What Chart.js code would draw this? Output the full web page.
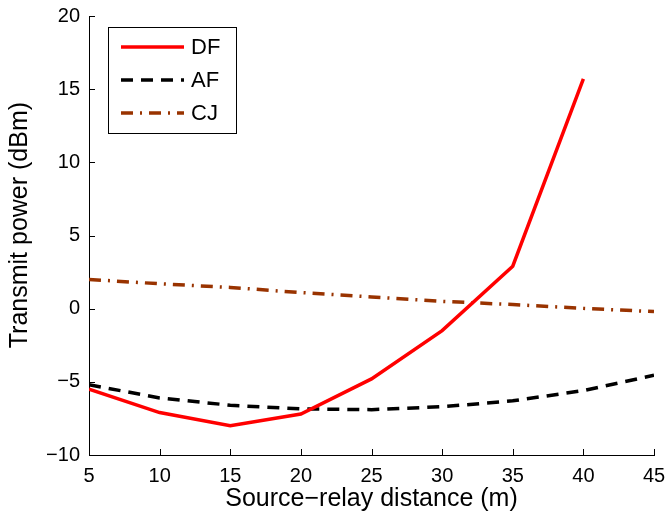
<!DOCTYPE html>
<html>
<head>
<meta charset="utf-8">
<script src="https://cdn.jsdelivr.net/npm/chart.js@4/dist/chart.umd.min.js"></script>
<style>
  html, body { margin: 0; padding: 0; background: #fff; }
  #wrap { width: 667px; height: 514px; }
</style>
</head>
<body>
<div id="wrap"><canvas id="chart"></canvas></div>
<script>
// valores
const distances = [5, 10, 15, 20, 25, 30, 35, 40, 45];
const dfPower = [-5.5, -7.1, -8.0, -7.2, -4.8, -1.5, 2.9, 15.7, null];
const afPower = [-5.2, -6.1, -6.6, -6.85, -6.9, -6.7, -6.3, -5.6, -4.55];
const cjPower = [2.0, 1.7, 1.45, 1.1, 0.8, 0.5, 0.28, 0.02, -0.2];
const seriesNames = ["DF", "AF", "CJ"];
const xTicks = [5, 10, 15, 20, 25, 30, 35, 40, 45];
const yTicks = [-10, -5, 0, 5, 10, 15, 20];

const FONT = "'Liberation Sans', Arial, Helvetica, sans-serif";

function toPoints(values) {
  return distances.map((d, i) => ({ x: d, y: values[i] }));
}

// ticks para dentro, estilo MATLAB
const inwardTicks = {
  id: "inwardTicks",
  afterDraw(chart) {
    const { ctx, chartArea, scales } = chart;
    ctx.save();
    ctx.strokeStyle = "#000";
    ctx.lineWidth = 1;
    ctx.beginPath();
    for (const v of xTicks) {
      const px = Math.round(scales.x.getPixelForValue(v)) + 0.5;
      ctx.moveTo(px, chartArea.bottom);
      ctx.lineTo(px, chartArea.bottom - 6);
    }
    for (const v of yTicks) {
      const py = Math.round(scales.y.getPixelForValue(v)) + 0.5;
      ctx.moveTo(chartArea.left, py);
      ctx.lineTo(chartArea.left + 6, py);
    }
    ctx.stroke();
    ctx.restore();
  }
};

// legenda desenhada à mão com os estilos dos datasets
const boxLegend = {
  id: "boxLegend",
  afterDraw(chart) {
    const { ctx, chartArea } = chart;
    const x0 = chartArea.left + 19, y0 = 27, w = 128, h = 106;
    ctx.save();
    ctx.fillStyle = "#fff";
    ctx.fillRect(x0, y0, w, h);
    ctx.strokeStyle = "#000";
    ctx.lineWidth = 1;
    ctx.strokeRect(x0 + 0.5, y0 + 0.5, w, h);
    chart.data.datasets.forEach((ds, i) => {
      const y = y0 + 20 + i * 33;
      ctx.strokeStyle = ds.borderColor;
      ctx.lineWidth = ds.borderWidth;
      ctx.setLineDash(ds.borderDash || []);
      ctx.beginPath();
      ctx.moveTo(x0 + 13, y);
      ctx.lineTo(x0 + 76, y);
      ctx.stroke();
      ctx.setLineDash([]);
      ctx.fillStyle = "#000";
      ctx.font = "22px " + FONT;
      ctx.textBaseline = "middle";
      ctx.fillText(ds.label, x0 + 83, y + 1);
    });
    ctx.restore();
  }
};

const minus = v => String(v).replace("-", "\u2212");

new Chart(document.getElementById("chart"), {
  type: "line",
  data: {
    datasets: [
      {
        label: seriesNames[0],
        data: toPoints(dfPower),
        borderColor: "#ff0000",
        borderWidth: 3.5,
        pointRadius: 0,
        spanGaps: false
      },
      {
        label: seriesNames[1],
        data: toPoints(afPower),
        borderColor: "#000000",
        borderWidth: 3.5,
        borderDash: [12, 8],
        pointRadius: 0
      },
      {
        label: seriesNames[2],
        data: toPoints(cjPower),
        borderColor: "#993300",
        borderWidth: 3.5,
        borderDash: [12, 7, 2, 7],
        pointRadius: 0
      }
    ]
  },
  options: {
    responsive: true,
    maintainAspectRatio: false,
    animation: false,
    layout: { padding: { top: 16, right: 13, left: 0, bottom: 0 } },
    plugins: {
      legend: { display: false },
      tooltip: { enabled: false }
    },
    scales: {
      x: {
        type: "linear",
        min: 5,
        max: 45,
        afterBuildTicks: s => { s.ticks = xTicks.map(v => ({ value: v })); },
        afterFit: s => { s.height = 59; s.paddingLeft = 0; s.paddingRight = 0; },
        grid: { display: true, drawOnChartArea: false, drawTicks: false },
        border: { color: "#000", width: 1 },
        ticks: { color: "#000", font: { family: FONT, size: 20 }, padding: 9, maxRotation: 0, callback: minus },
        title: {
          display: true,
          text: "Source\u2212relay distance (m)",
          color: "#000",
          font: { family: FONT, size: 25 },
          padding: { top: 0, bottom: 0 }
        }
      },
      y: {
        min: -10,
        max: 20,
        afterBuildTicks: s => { s.ticks = yTicks.map(v => ({ value: v })); },
        afterFit: s => { s.width = 89; s.paddingTop = 0; s.paddingBottom = 0; },
        grid: { display: true, drawOnChartArea: false, drawTicks: false },
        border: { color: "#000", width: 1 },
        ticks: { color: "#000", font: { family: FONT, size: 20 }, padding: 9, callback: minus },
        title: {
          display: true,
          text: "   Transmit power (dBm)",
          color: "#000",
          font: { family: FONT, size: 25 },
          padding: { top: 5, bottom: 0 }
        }
      }
    }
  },
  plugins: [inwardTicks, boxLegend]
});
</script>
</body>
</html>
